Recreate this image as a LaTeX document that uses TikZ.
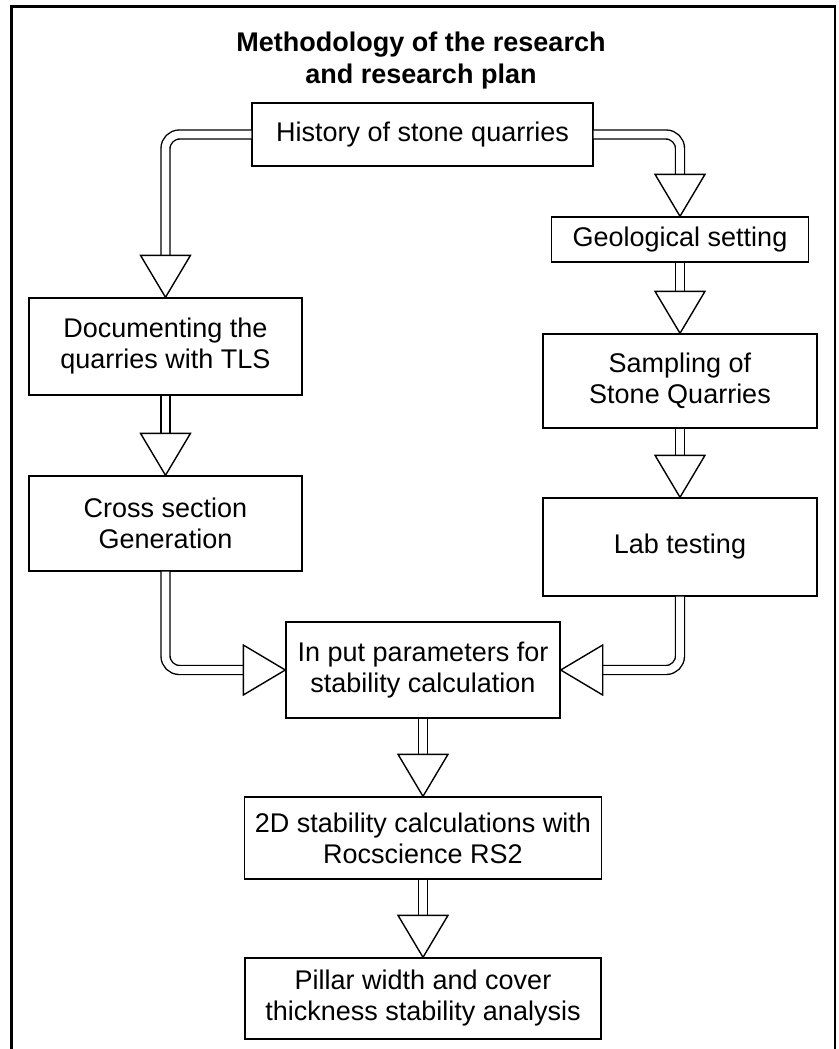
\documentclass[tikz,border=0pt]{standalone}
\usepackage{fontspec}
\setmainfont{Liberation Sans}
\usetikzlibrary{calc}

\begin{document}
\begin{tikzpicture}[x=1pt, y=-1pt,
  every node/.style={font=\fontsize{27}{31}\selectfont},
  box/.style={draw, line width=1.4pt, inner sep=0pt, align=center},
  shaft/.style={draw, line width=1.4pt, double, double distance=7.6pt, rounded corners=14pt},
  tri/.pic={\draw[line width=1.4pt, fill=white] (0,0) -- (-25,-42) -- (25,-42) -- cycle;}]
  \useasboundingbox (0,0) rectangle (838,1049);
  % outer frame (open at the bottom)
  \draw[line width=2.2pt] (11.5,1060) -- (11.5,6.5) -- (835,6.5) -- (835,1060);
  % title
  \node[font=\fontsize{27}{32}\selectfont\bfseries, align=center] (title) at (421,61)
    {Methodology of the research\\and research plan};
  % boxes
  \node[box, minimum width=341pt, minimum height=63pt] (hist) at (422.5,134.5) {History of stone quarries};
  \node[box, minimum width=257pt, minimum height=45pt] (geo) at (680,239.5) {Geological setting};
  \node[box, minimum width=274pt, minimum height=94pt] (samp) at (680,381) {Sampling of\\Stone Quarries};
  \node[box, minimum width=274pt, minimum height=98pt] (lab) at (680,547) {Lab testing};
  \node[box, minimum width=273pt, minimum height=97pt] (doc) at (165.5,346.5) {Documenting the\\quarries with TLS};
  \node[box, minimum width=273pt, minimum height=95pt] (cross) at (165.5,523.5) {Cross section\\Generation};
  \node[box, minimum width=274pt, minimum height=96pt] (input) at (423,670) {In put parameters for\\stability calculation};
  \node[box, minimum width=357pt, minimum height=82pt] (twod) at (423,838) {2D stability calculations with\\Rocscience RS2};
  \node[box, minimum width=356pt, minimum height=81pt] (pillar) at (423,998.5) {Pillar width and cover\\thickness stability analysis};
  % double shafts
  \draw[shaft] (hist.west) -| ([yshift=42pt]doc.north);
  \draw[shaft] (hist.east) -| ([yshift=42pt]geo.north);
  \draw[shaft] (geo.south) -- ([yshift=42pt]samp.north);
  \draw[shaft] (samp.south) -- ([yshift=42pt]lab.north);
  \draw[shaft] (doc.south) -- ([yshift=42pt]cross.north);
  \draw[shaft] (cross.south) |- ([xshift=-42pt]input.west);
  \draw[shaft] (lab.south) |- ([xshift=42pt]input.east);
  \draw[shaft] (input.south) -- ([yshift=42pt]twod.north);
  \draw[shaft] (twod.south) -- ([yshift=42pt]pillar.north);
  % open triangle heads
  \pic at (doc.north) {tri};
  \pic at (geo.north) {tri};
  \pic at (samp.north) {tri};
  \pic at (lab.north) {tri};
  \pic at (cross.north) {tri};
  \pic[rotate=90] at (input.west) {tri};
  \pic[rotate=-90] at (input.east) {tri};
  \pic at (twod.north) {tri};
  \pic at (pillar.north) {tri};
\end{tikzpicture}
\end{document}
